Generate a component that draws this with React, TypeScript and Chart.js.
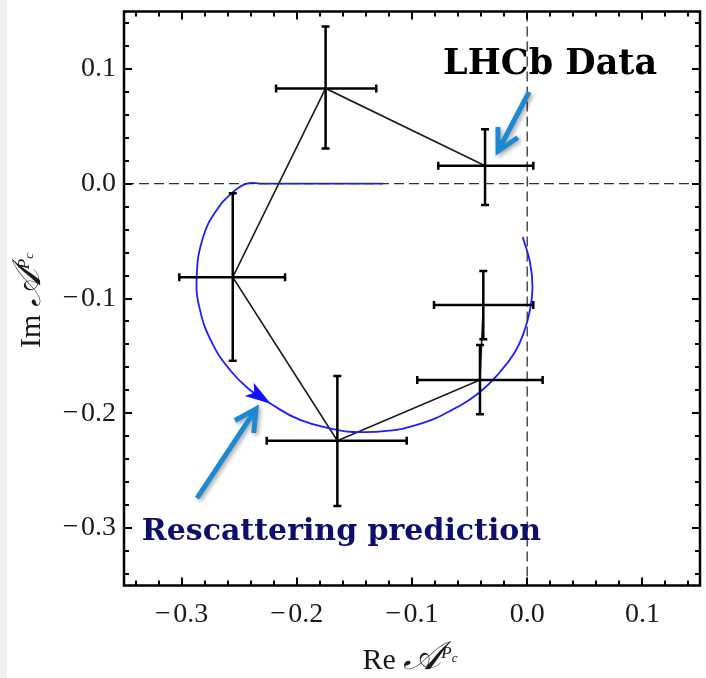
import React, { useEffect, useRef } from "react";
import { Chart, registerables } from "chart.js";

Chart.register(...registerables);

// ---- axes ----
const xRange = [-0.35, 0.15];
const yRange = [-0.35, 0.15];
const majorTicks = [-0.3, -0.2, -0.1, 0.0, 0.1];
const minorStep = 0.02;

// ---- LHCb data points (in order of the connecting line) ----
const dataRe = [-0.0366, -0.175, -0.2556, -0.1648, -0.041, -0.0381];
const dataIm = [0.0157, 0.083, -0.0815, -0.2239, -0.171, -0.1057];
const reLow = [-0.0772, -0.218, -0.302, -0.2261, -0.0954, -0.0809];
const reHigh = [0.0053, -0.131, -0.2102, -0.1046, 0.0134, 0.0053];
const imLow = [-0.0185, 0.0306, -0.1542, -0.2808, -0.2009, -0.1355];
const imHigh = [0.0474, 0.137, -0.0084, -0.1675, -0.1405, -0.076];

// ---- Rescattering prediction curve ----
const curveRe = [
  -0.1252, -0.18, -0.23, -0.2435, -0.2565, -0.2695, -0.2812, -0.2869, -0.284,
  -0.2732, -0.258, -0.242, -0.2233, -0.1972, -0.1654, -0.1512, -0.122, -0.0931,
  -0.067, -0.041, -0.0236, -0.0106, -0.0028, 0.0024, 0.0046, 0.0024, -0.0039,
];
const curveIm = [
  0, 0, 0, 0, -0.0084, -0.0229, -0.0462, -0.081, -0.1101, -0.1393, -0.1623,
  -0.1786, -0.1913, -0.2058, -0.2145, -0.2163, -0.2154, -0.2093, -0.198,
  -0.1814, -0.164, -0.1466, -0.1292, -0.11, -0.09, -0.0682, -0.0464,
];
const curveArrowIndex = 12;

// ---- annotations (data coordinates) ----
const lhcbText = { text: "LHCb Data", x: -0.073, y: 0.0956 };
const rescText = { text: "Rescattering prediction", x: -0.3346, y: -0.3104 };
const blueArrows = [
  { fromX: 0.0016, fromY: 0.0799, toX: -0.0253, toY: 0.0285 },
  { fromX: -0.2866, fromY: -0.2738, toX: -0.2354, toY: -0.1963 },
];

const MINUS = "\u2212\u200A";
const fmt = (v: number) => {
  const s = Math.abs(v).toFixed(1);
  return v < -1e-9 ? MINUS + s : s;
};

const SERIF = '"Liberation Serif", "Times New Roman", serif';

function drawMathLabel(ctx: CanvasRenderingContext2D, prefix: string) {
  const parts = [
    { t: prefix + " ", font: `30px ${SERIF}`, dy: 0 },
    { t: "\u{1D49C}", font: `italic 40px ${SERIF}`, dy: 0 },
    { t: "P", font: `italic 17px ${SERIF}`, dy: -11 },
    { t: "c", font: `italic 13px ${SERIF}`, dy: -7 },
  ];
  let total = 0;
  const widths: number[] = [];
  for (const p of parts) {
    ctx.font = p.font;
    const w = ctx.measureText(p.t).width;
    widths.push(w);
    total += w;
  }
  let xx = -total / 2;
  parts.forEach((p, i) => {
    ctx.font = p.font;
    ctx.fillText(p.t, xx, p.dy);
    xx += widths[i];
  });
}

const decorPlugin = {
  id: "decor",
  afterDatasetsDraw(chart: any) {
    const { ctx, chartArea: a, scales } = chart;
    const xs = scales.x;
    const ys = scales.y;
    const px = (v: number) => xs.getPixelForValue(v);
    const py = (v: number) => ys.getPixelForValue(v);
    ctx.save();

    // dashed zero lines
    ctx.strokeStyle = "#333";
    ctx.lineWidth = 1.3;
    ctx.setLineDash([10, 5]);
    ctx.beginPath();
    ctx.moveTo(a.left, py(0));
    ctx.lineTo(a.right, py(0));
    ctx.stroke();
    ctx.beginPath();
    ctx.moveTo(px(0), a.top);
    ctx.lineTo(px(0), a.bottom);
    ctx.stroke();
    ctx.setLineDash([]);

    // arrowhead on the prediction curve
    {
      const i = curveArrowIndex;
      const tx = px(curveRe[i]);
      const ty = py(curveIm[i]);
      const bx = px(curveRe[i - 1]);
      const by = py(curveIm[i - 1]);
      const ang = Math.atan2(ty - by, tx - bx);
      ctx.save();
      ctx.translate(tx, ty);
      ctx.rotate(ang);
      ctx.fillStyle = "#1010ff";
      ctx.beginPath();
      ctx.moveTo(1, 0);
      ctx.lineTo(-25, -8);
      ctx.lineTo(-19, 0);
      ctx.lineTo(-25, 8);
      ctx.closePath();
      ctx.fill();
      ctx.restore();
    }

    // error bars
    ctx.strokeStyle = "#000";
    ctx.lineWidth = 2.5;
    const cap = 4;
    for (let i = 0; i < dataRe.length; i++) {
      const cx = px(dataRe[i]);
      const cy = py(dataIm[i]);
      const x0 = px(reLow[i]);
      const x1 = px(reHigh[i]);
      const y0 = py(imLow[i]);
      const y1 = py(imHigh[i]);
      ctx.beginPath();
      ctx.moveTo(x0, cy);
      ctx.lineTo(x1, cy);
      ctx.moveTo(x0, cy - cap);
      ctx.lineTo(x0, cy + cap);
      ctx.moveTo(x1, cy - cap);
      ctx.lineTo(x1, cy + cap);
      ctx.moveTo(cx, y0);
      ctx.lineTo(cx, y1);
      ctx.moveTo(cx - cap, y0);
      ctx.lineTo(cx + cap, y0);
      ctx.moveTo(cx - cap, y1);
      ctx.lineTo(cx + cap, y1);
      ctx.stroke();
    }

    // frame
    ctx.lineWidth = 2.5;
    ctx.strokeStyle = "#000";
    ctx.strokeRect(a.left, a.top, a.right - a.left, a.bottom - a.top);

    // frame ticks (inward, all sides)
    ctx.lineWidth = 2;
    const isMajor = (v: number) =>
      majorTicks.some((m) => Math.abs(m - v) < 1e-6);
    const ticksX: number[] = [];
    for (let v = Math.ceil(xRange[0] / minorStep) * minorStep; v <= xRange[1] + 1e-9; v += minorStep) ticksX.push(+v.toFixed(4));
    const ticksY: number[] = [];
    for (let v = Math.ceil(yRange[0] / minorStep) * minorStep; v <= yRange[1] + 1e-9; v += minorStep) ticksY.push(+v.toFixed(4));
    ctx.beginPath();
    for (const v of ticksX) {
      const L = isMajor(v) ? 8 : 5;
      const xx = Math.round(px(v));
      ctx.moveTo(xx, a.bottom);
      ctx.lineTo(xx, a.bottom - L);
      ctx.moveTo(xx, a.top);
      ctx.lineTo(xx, a.top + L);
    }
    for (const v of ticksY) {
      const L = isMajor(v) ? 8 : 5;
      const yy = Math.round(py(v));
      ctx.moveTo(a.left, yy);
      ctx.lineTo(a.left + L, yy);
      ctx.moveTo(a.right, yy);
      ctx.lineTo(a.right - L, yy);
    }
    ctx.stroke();

    // texts
    ctx.textBaseline = "alphabetic";
    ctx.textAlign = "left";
    ctx.fillStyle = "#000";
    ctx.font = 'bold 35px "DejaVu Serif", serif';
    ctx.fillText(lhcbText.text, px(lhcbText.x), py(lhcbText.y));
    ctx.fillStyle = "#0e0e6c";
    ctx.font = 'bold 30px "DejaVu Serif", serif';
    ctx.fillText(rescText.text, px(rescText.x), py(rescText.y));

    // blue annotation arrows
    ctx.strokeStyle = "#1c8ad2";
    ctx.lineWidth = 5;
    ctx.lineCap = "butt";
    ctx.lineJoin = "miter";
    ctx.shadowColor = "rgba(0,0,0,0.35)";
    ctx.shadowBlur = 4;
    ctx.shadowOffsetX = 2;
    ctx.shadowOffsetY = 2;
    for (const ar of blueArrows) {
      const x0 = px(ar.fromX);
      const y0 = py(ar.fromY);
      const x1 = px(ar.toX);
      const y1 = py(ar.toY);
      const ang = Math.atan2(y1 - y0, x1 - x0);
      const hl = 24;
      const ha = (28 * Math.PI) / 180;
      ctx.beginPath();
      ctx.moveTo(x0, y0);
      ctx.lineTo(x1, y1);
      ctx.moveTo(x1 - hl * Math.cos(ang - ha), y1 - hl * Math.sin(ang - ha));
      ctx.lineTo(x1, y1);
      ctx.lineTo(x1 - hl * Math.cos(ang + ha), y1 - hl * Math.sin(ang + ha));
      ctx.stroke();
    }
    ctx.restore();
  },
  afterDraw(chart: any) {
    const { ctx, chartArea: a } = chart;
    ctx.save();
    ctx.fillStyle = "#1a1a1a";
    ctx.textBaseline = "alphabetic";
    ctx.textAlign = "left";
    ctx.save();
    ctx.translate((a.left + a.right) / 2 - 2, a.bottom + 83.5);
    drawMathLabel(ctx, "Re");
    ctx.restore();
    ctx.save();
    ctx.translate(40, (a.top + a.bottom) / 2 + 2);
    ctx.rotate(-Math.PI / 2);
    drawMathLabel(ctx, "Im");
    ctx.restore();
    ctx.restore();
  },
};

export default function App() {
  const ref = useRef<HTMLCanvasElement | null>(null);
  useEffect(() => {
    if (!ref.current) return;
    const tickFont = { family: SERIF, size: 28 };
    const chart = new Chart(ref.current, {
      type: "line",
      data: {
        datasets: [
          {
            label: "Rescattering prediction",
            data: curveRe.map((x, i) => ({ x, y: curveIm[i] })),
            borderColor: "#1e1eff",
            borderWidth: 1.8,
            pointRadius: 0,
            tension: 0.45,
            fill: false,
          },
          {
            label: "LHCb Data",
            data: dataRe.map((x, i) => ({ x, y: dataIm[i] })),
            borderColor: "#1a1a1a",
            borderWidth: 1.6,
            pointRadius: 0,
            tension: 0,
            fill: false,
          },
        ],
      },
      options: {
        responsive: false,
        animation: false,
        layout: { padding: { left: 0, top: 11.5, right: 6, bottom: 0 } },
        plugins: {
          legend: { display: false },
          tooltip: { enabled: false },
        },
        scales: {
          x: {
            type: "linear",
            min: xRange[0],
            max: xRange[1],
            grid: { display: false, drawTicks: false },
            border: { display: false },
            ticks: {
              font: tickFont,
              color: "#1a1a1a",
              padding: 12,
              maxRotation: 0,
              callback: (v: any) => fmt(Number(v)),
            },
            afterBuildTicks: (s: any) => {
              s.ticks = majorTicks.map((v) => ({ value: v }));
            },
            afterFit: (s: any) => {
              s.height = 92.5;
              s.paddingLeft = 0;
              s.paddingRight = 0;
            },
          },
          y: {
            type: "linear",
            min: yRange[0],
            max: yRange[1],
            grid: { display: false, drawTicks: false },
            border: { display: false },
            ticks: {
              font: tickFont,
              color: "#1a1a1a",
              padding: 8,
              callback: (v: any) => fmt(Number(v)),
            },
            afterBuildTicks: (s: any) => {
              s.ticks = majorTicks.map((v) => ({ value: v }));
            },
            afterFit: (s: any) => {
              s.width = 124;
              s.paddingTop = 0;
              s.paddingBottom = 0;
            },
          },
        },
      },
      plugins: [decorPlugin],
    } as any);
    return () => chart.destroy();
  }, []);

  return (
    <div
      style={{
        position: "absolute",
        left: 0,
        top: 0,
        width: 706,
        height: 678,
        background: "#fff",
      }}
    >
      <div
        style={{
          position: "absolute",
          left: 0,
          top: 0,
          width: 7,
          height: 678,
          background: "#efefef",
        }}
      />
      <canvas
        ref={ref}
        width={706}
        height={678}
        style={{ position: "absolute", left: 0, top: 0, display: "block" }}
      />
    </div>
  );
}
